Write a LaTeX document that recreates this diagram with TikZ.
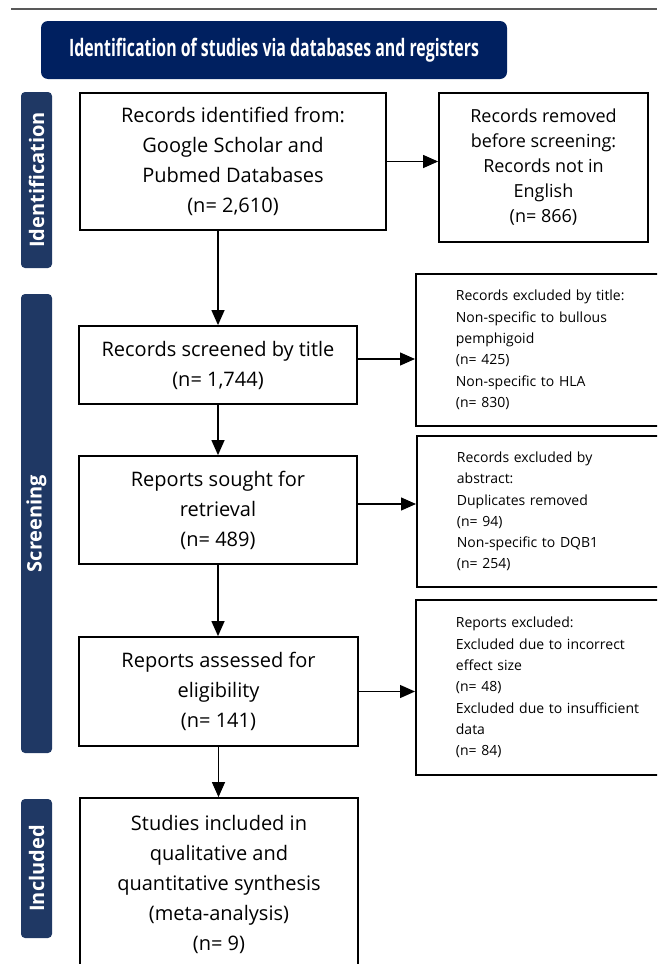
\documentclass[tikz,border=0pt]{standalone}
\usepackage{fontspec}
\setmainfont{Open Sans}
\usetikzlibrary{arrows.meta}
\definecolor{headblue}{RGB}{0,32,96}
\definecolor{phaseblue}{RGB}{31,56,100}

\begin{document}
\begin{tikzpicture}[x=1pt,y=-1pt,
    mainbox/.style={draw, line width=1.8pt, align=center, inner sep=0pt,
        font=\fontsize{20}{30}\selectfont},
    exclbox/.style={draw, line width=1.8pt, anchor=west, align=left, text width=200pt,
        inner xsep=40pt, inner ysep=0pt, font=\fontsize{14}{21.3}\selectfont},
    phase/.style={fill=phaseblue, rounded corners=4pt, text=white, rotate=90,
        minimum height=31pt, inner sep=0pt, font=\bfseries\fontsize{20}{22}\selectfont},
    flow/.style={line width=1.3pt, -{Triangle[length=15pt,width=13pt]}}]

\useasboundingbox (0,0) rectangle (657,964);
\clip (0,0) rectangle (657,964);

\draw[line width=2pt, black!65] (11,9) -- (657,9);

\node[fill=headblue, rounded corners=7pt, minimum width=466pt, minimum height=58pt, text=white,
    font=\bfseries\fontsize{24}{26}\selectfont] (head) at (274,50)
    {\resizebox{410pt}{\height}{Identification of studies via databases and registers}};

\node[phase, minimum width=176pt] (ident) at (36.5,180) {Identification};
\node[phase, minimum width=459pt] (screen) at (36.5,523.5) {Screening};
\node[phase, minimum width=139pt] (incl) at (36.5,868.5) {Included};

\node[mainbox, minimum width=306pt, minimum height=137pt] (found) at (233,161.5)
    {Records identified from:\\Google Scholar and\\Pubmed Databases\\(n= 2,610)};
\node[mainbox, minimum width=209pt, minimum height=149pt,
    font=\fontsize{18}{25}\selectfont] (removed) at (543.5,167.5)
    {Records removed\\before screening:\\Records not in\\English\\(n= 866)};

\node[mainbox, minimum width=278pt, minimum height=78pt] (titled) at (218,365)
    {Records screened by title\\(n= 1,744)};
\node[exclbox, minimum height=152pt] (titleout) at (415,350)
    {Records excluded by title:\\Non-specific to bullous\\pemphigoid\\(n= 425)\\Non-specific to HLA\\(n= 830)};

\node[mainbox, minimum width=278pt, minimum height=108pt] (sought) at (218,510)
    {Reports sought for\\retrieval\\(n= 489)};
\node[exclbox, minimum height=151pt] (abstrout) at (416,511.5)
    {Records excluded by\\abstract:\\Duplicates removed\\(n= 94)\\Non-specific to DQB1\\(n= 254)};

\node[mainbox, minimum width=279pt, minimum height=109pt] (assessed) at (218.5,691.5)
    {Reports assessed for\\eligibility\\(n= 141)};
\node[exclbox, minimum height=175pt] (reportout) at (415,687.5)
    {Reports excluded:\\Excluded due to incorrect\\effect size\\(n= 48)\\Excluded due to insufficient\\data\\(n= 84)};

\node[mainbox, minimum width=278pt, minimum height=172pt] (included) at (219,884)
    {Studies included in\\qualitative and\\quantitative synthesis\\(meta-analysis)\\(n= 9)};

\draw[flow] (found.east) -- (found.east -| removed.west);
\draw[flow] ([yshift=6pt]titled.east) -- ([yshift=6pt]titled.east -| titleout.west);
\draw[flow] ([yshift=6pt]sought.east) -- ([yshift=6pt]sought.east -| abstrout.west);
\draw[flow] (assessed.east) -- (assessed.east -| reportout.west);

\draw[flow] (found.south -| titled.north) -- (titled.north);
\draw[flow] (titled.south) -- (sought.north);
\draw[flow] (sought.south) -- (sought.south |- assessed.north);
\draw[flow] (assessed.south) -- (assessed.south |- included.north);
\end{tikzpicture}
\end{document}
